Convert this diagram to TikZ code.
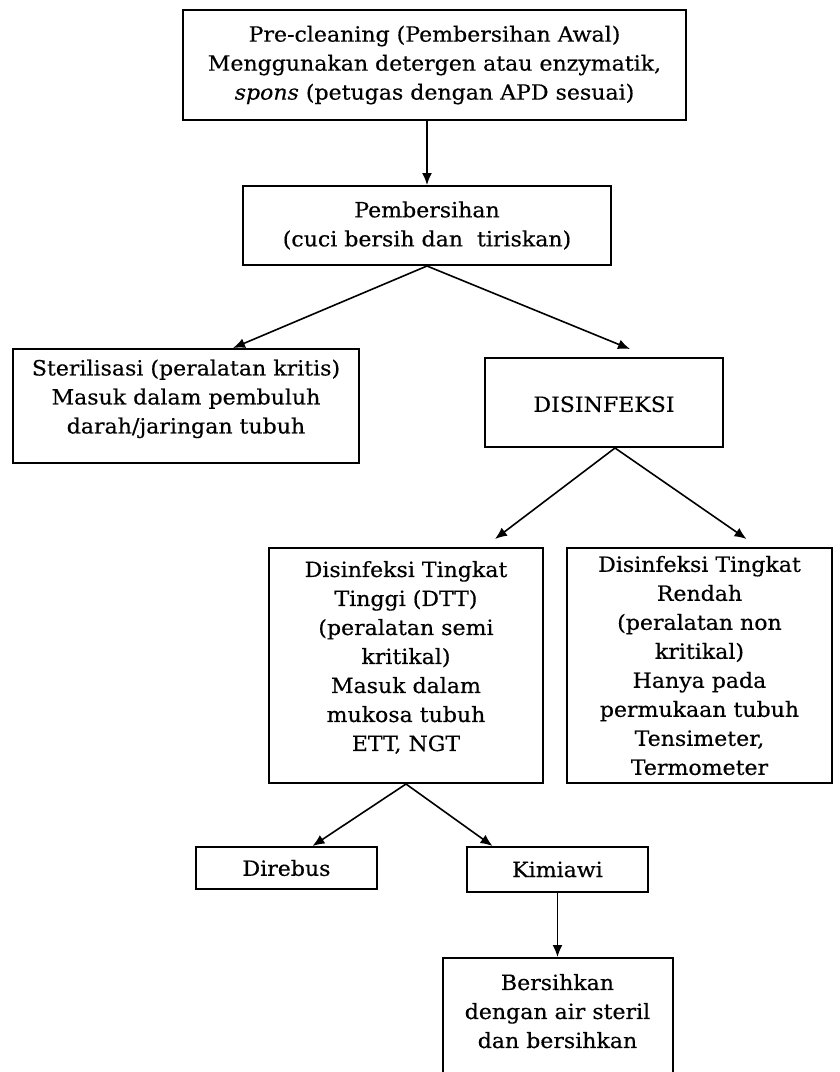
\documentclass[tikz,border=0pt]{standalone}
\usepackage{fontspec}
\setmainfont{DejaVu Serif}[FakeStretch=1.05,FakeBold=0.4]
\usetikzlibrary{arrows.meta}
\begin{document}
\begin{tikzpicture}[x=1pt,y=-1pt,
    box/.style={draw, line width=2pt, align=center, inner sep=0pt,
      font=\fontsize{21}{29}\selectfont},
    arr/.style={-{Latex[length=12pt,width=10pt]}, line width=1.6pt}]
  \useasboundingbox (0,0) rectangle (840,1072);
  \node[box, minimum width=503pt, minimum height=110pt] (pre) at (434.5,65)
    {Pre-cleaning (Pembersihan Awal)\\Menggunakan detergen atau enzymatik,\\\textit{spons} (petugas dengan APD sesuai)};
  \node[box, minimum width=368pt, minimum height=79pt] (bersih) at (427,225.5)
    {Pembersihan\\(cuci bersih dan\ \ tiriskan)};
  \node[box, minimum width=346pt, minimum height=114pt] (steril) at (186,406)
    {Sterilisasi (peralatan kritis)\\Masuk dalam pembuluh\\darah/jaringan tubuh\\[-10pt]\mbox{}};
  \node[box, minimum width=238pt, minimum height=89pt] (disinf) at (604,402.5)
    {\mbox{}\\[-10pt]DISINFEKSI};
  \node[box, minimum width=274pt, minimum height=235pt] (dtt) at (406,665.5)
    {Disinfeksi Tingkat\\Tinggi (DTT)\\(peralatan semi\\kritikal)\\Masuk dalam\\mukosa tubuh\\ETT, NGT\\[-10pt]\mbox{}};
  \node[box, minimum width=265pt, minimum height=235pt] (rendah) at (699.5,665.5)
    {Disinfeksi Tingkat\\Rendah\\(peralatan non\\kritikal)\\Hanya pada\\permukaan tubuh\\Tensimeter,\\Termometer};
  \node[box, minimum width=181pt, minimum height=42pt] (direbus) at (286.5,868) {Direbus};
  \node[box, minimum width=181pt, minimum height=45pt] (kimia) at (557.5,869.5) {Kimiawi};
  \node[box, minimum width=230pt, minimum height=160pt, anchor=north] (bilas) at (557.5,957)
    {Bersihkan\\dengan air steril\\dan bersihkan\\[25pt]\mbox{}};
  \draw[arr] (bersih.north |- pre.south) -- (bersih.north);
  \draw[arr] (bersih.south) -- ([xshift=47pt]steril.north);
  \draw[arr] (bersih.south) -- ([xshift=26pt,yshift=8pt]disinf.north);
  \draw[arr] ([xshift=11pt]disinf.south) -- ([xshift=89pt,yshift=8pt]dtt.north);
  \draw[arr] ([xshift=11pt]disinf.south) -- ([xshift=47pt,yshift=8pt]rendah.north);
  \draw[arr] (dtt.south) -- ([xshift=26pt]direbus.north);
  \draw[arr] (dtt.south) -- ([xshift=-65pt]kimia.north);
  \draw[arr] (kimia.south) -- (bilas.north);
\end{tikzpicture}
\end{document}
